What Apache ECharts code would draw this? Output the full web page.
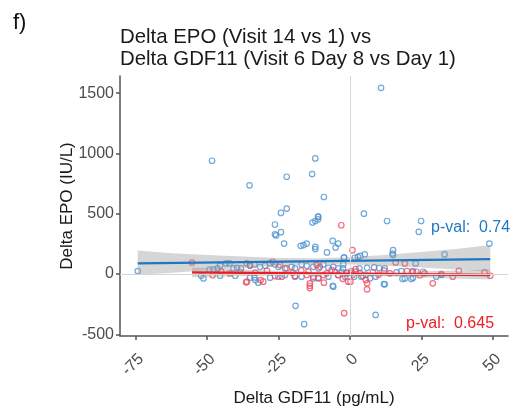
<!DOCTYPE html>
<html>
<head>
<meta charset="utf-8">
<script src="https://cdn.jsdelivr.net/npm/echarts@6/dist/echarts.min.js"></script>
<style>
  html, body { margin: 0; padding: 0; background: #ffffff; }
  #chart { width: 510px; height: 409px; }
</style>
</head>
<body>
<div id="chart"></div>
<script>
// Tick positions on each axis
const xTicks = [-75, -50, -25, 0, 25, 50];
const yTicks = [-500, 0, 500, 1000, 1500];

// [Delta GDF11, Delta EPO] per subject, first group (blue)
const bluePoints = [
  [-48.2, 940], [-12.1, 959], [-35.1, 736], [-22.1, 807], [-13.2, 829], [-9.1, 639],
  [-22.1, 543], [-24.1, 507], [-11.1, 474], [10.9, 1545], [4.9, 501], [13, 440],
  [24.9, 440], [24.1, 350], [-26.2, 411], [-26.2, 330], [-25.8, 320], [-24.1, 347],
  [-23, 253], [-13.1, 427], [-12.1, 440], [-11.1, 454], [-11.1, 477], [-17.2, 234],
  [-16.2, 240], [-15.1, 253], [-12.1, 226], [-12.1, 207], [-8, 179], [-6, 275],
  [-4.1, 253], [-5, 220], [-2, 138], [-19, -264], [-16, -416], [-6, -97],
  [-32, -72], [-33.1, -50], [15.1, 198], [15.1, 157], [33.1, 163], [23, 88],
  [11.9, -83], [9, -339], [18.4, -41], [21.5, -41], [30.2, -22], [32, -8],
  [48.8, 253], [-74.2, 25], [-52, -14], [-51.2, -36],
  [-49.1, 36], [-47.7, 36], [-46.3, 47], [-45.4, 69], [-43.3, 88], [-42.1, 88],
  [-40.7, 47], [-39.5, 52], [-38.1, 47], [-45.4, -14], [-40.1, -14],
  [-36.1, 88], [-34.9, 69], [-33.4, 80], [-31.4, 60], [-29.7, 69], [-27.9, 88],
  [-26.2, 80], [-25, 60], [-22.7, 47], [-20.4, 60], [-19.2, 47], [-16.9, 80],
  [-15.1, 69], [-12.8, 60], [-11, 47], [-9.3, 80], [-7.5, 52], [-5.8, 60],
  [-4.1, 47], [-2.3, 80],
  [-34.9, -30], [-33.4, -28], [-27.9, -30], [-25, -22], [-22.7, -8], [-19.2, -22],
  [-16.9, -22], [-12.8, -36], [-11, -30], [-7.5, -22], [-4.1, -8], [-5.8, -105],
  [-2.1, 135], [1.7, 135], [2.8, 142], [3.6, 150], [5.2, 163], [14.9, 170],
  [-2.4, 47], [-2.9, 19], [3.3, 47], [6, 52], [8.5, 55], [10.2, 50], [12.2, 47],
  [16.3, 14], [18, 25], [22, 25], [19.2, -36], [22.1, -30], [7, -36], [9, -22],
  [-1.7, -22], [1.5, -22], [4, -22], [5.5, -5], [12.2, -85], [25.6, 19],
  [2, 20], [0.5, 10], [-1, 5]
];

// [Delta GDF11, Delta EPO] per subject, second group (red)
const redPoints = [
  [-55.2, 95], [-36.3, -69], [-35, 74], [-36, -63], [-30.3, -63], [-31.2, -50],
  [-27, 102], [-24.4, 74], [-22.1, 47], [-29, 27], [-26.2, -17], [-23.8, -22],
  [-19.2, -17], [-15.1, -8], [-12.8, -22], [-11, -36], [-9.3, -8], [-8.1, 6],
  [-6.4, 33], [-5.2, 19], [-4.1, -8], [-1.2, 11], [-0.6, -63], [-11.6, 74],
  [-10.5, 60], [-9.1, -72], [-33.1, 11], [-38.4, 19], [-3, 405], [-2, -325],
  [-14, -77], [-14, -97], [-14, -116], [0.9, 198], [6, -77], [6, -127],
  [5.6, -50], [0.2, -63], [29, -77], [38.1, 27], [36, -22], [47.1, 14],
  [49.1, -14], [26.2, 6], [23.3, 19], [16, 96], [19.2, 88], [14, 6],
  [20, 25], [22, 15], [24.5, -10], [2, 40], [3.5, 10], [0.5, 25],
  [4.5, -15], [1, -5], [-45, 20], [-42, 5], [-48, -10], [-20, 10],
  [-17, 30], [-14.5, 20], [-2.5, -40], [8, 15], [10, -5], [12, 28], [32, 0]
];

// Fitted lines (end points) and their confidence bands
const blueFitX = [-74.2, 49.1];
const blueFitY = [88, 124];
const redFitX = [-55.2, 49.1];
const redFitY = [14, -8];

const blueBandX    = [-74.2, -62, -50, -37, -25, -12, 0, 12, 25, 37, 49.1];
const blueBandLow  = [-5, 10, 31, 53, 71, 82, 79, 69, 54, 38, 19];
const blueBandHigh = [195, 173, 159, 145, 133, 130, 140, 158, 182, 207, 240];

const redBandX    = [-55.2, -40, -25, -12, 0, 12, 25, 37, 49.1];
const redBandLow  = [-26, -18, -12, -8, -10, -18, -29, -38, -46];
const redBandHigh = [54, 40, 27, 18, 15, 17, 23, 30, 38];

const pLabels = ['p-val:  0.74', 'p-val:  0.645'];

const BLUE_PT = '#4f93d0';
const RED_PT = '#f04a5e';
const BLUE_LINE = '#1f78c1';
const RED_LINE = '#ee1c25';
const FONT = 'Liberation Sans, Arial, sans-serif';

const zip = (xs, ys) => xs.map((x, i) => [x, ys[i]]);

// Confidence band drawn as one polygon: upper edge left→right, lower edge right→left
function bandSeries(name, xs, lo, hi) {
  return {
    name: name, type: 'custom', silent: true, z: 3,
    data: xs.map((x, i) => [x, lo[i], hi[i]]),
    encode: { x: 0, y: [1, 2] },
    renderItem: function (params, api) {
      if (params.dataIndex !== 0) return null;
      const upper = xs.map((x, i) => api.coord([x, hi[i]]));
      const lower = xs.map((x, i) => api.coord([x, lo[i]])).reverse();
      return {
        type: 'polygon',
        shape: { points: upper.concat(lower) },
        style: { fill: 'rgba(153,153,153,0.4)' }
      };
    }
  };
}

const chart = echarts.init(document.getElementById('chart'), null, { renderer: 'canvas' });

chart.setOption({
  animation: false,
  backgroundColor: '#ffffff',
  textStyle: { fontFamily: FONT },
  title: {
    text: 'Delta EPO (Visit 14 vs 1) vs\nDelta GDF11 (Visit 6 Day 8 vs Day 1)',
    left: 120, top: 26, padding: 0,
    textStyle: { fontSize: 20.4, fontWeight: 'normal', color: '#1a1a1a', lineHeight: 22, fontFamily: FONT }
  },
  grid: { left: 120, right: 2, top: 76, bottom: 73, outerBoundsMode: 'none', containLabel: false },
  xAxis: {
    type: 'value', min: -80.4, max: 55.3,
    name: 'Delta GDF11 (pg/mL)', nameLocation: 'middle', nameGap: 54, nameMoveOverlap: false,
    nameTextStyle: { fontSize: 17, color: '#1a1a1a', fontFamily: FONT },
    axisLine: { onZero: false, lineStyle: { color: '#555555', width: 1.5 } },
    axisTick: { show: true, length: 4, customValues: xTicks, lineStyle: { color: '#555555', width: 1.5 } },
    axisLabel: {
      customValues: xTicks, rotate: 45, margin: 15, verticalAlign: 'top',
      fontSize: 16, color: '#4d4d4d', fontFamily: FONT,
      formatter: v => String(v)
    },
    splitLine: { show: false }
  },
  yAxis: {
    type: 'value', min: -514, max: 1643,
    name: 'Delta EPO (IU/L)', nameLocation: 'middle', nameGap: 44, nameMoveOverlap: false,
    nameTextStyle: { fontSize: 17, color: '#1a1a1a', fontFamily: FONT },
    axisLine: { show: true, onZero: false, lineStyle: { color: '#555555', width: 1.5 } },
    axisTick: { show: true, length: 4, customValues: yTicks, lineStyle: { color: '#555555', width: 1.5 } },
    axisLabel: {
      customValues: yTicks, margin: 6, fontSize: 16, color: '#4d4d4d', fontFamily: FONT,
      formatter: v => String(v)
    },
    splitLine: { show: false }
  },
  graphic: [
    { type: 'text', left: 13, top: 12, style: { text: 'f)', fontSize: 22, fill: '#111111', fontFamily: FONT } },
    { type: 'text', x: 431, y: 228, style: { text: pLabels[0], fontSize: 16, fill: BLUE_LINE, fontFamily: FONT, verticalAlign: 'middle' }, z: 10 },
    { type: 'text', x: 406, y: 324, style: { text: pLabels[1], fontSize: 16, fill: RED_LINE, fontFamily: FONT, verticalAlign: 'middle' }, z: 10 }
  ],
  series: [
    {
      name: 'zero', type: 'line', data: [], silent: true, z: 1,
      markLine: {
        silent: true, symbol: 'none', label: { show: false },
        lineStyle: { color: '#d6d6d6', width: 1, type: 'solid' },
        data: [{ xAxis: 0 }, { yAxis: 0 }]
      }
    },
    {
      name: 'blue', type: 'scatter', data: bluePoints, symbol: 'circle', symbolSize: 5.5, z: 2,
      itemStyle: { color: 'rgba(0,0,0,0)', borderColor: BLUE_PT, borderWidth: 1.2 }
    },
    {
      name: 'red', type: 'scatter', data: redPoints, symbol: 'circle', symbolSize: 5.5, z: 2,
      itemStyle: { color: 'rgba(0,0,0,0)', borderColor: RED_PT, borderWidth: 1.2 }
    },
    bandSeries('blueBand', blueBandX, blueBandLow, blueBandHigh),
    bandSeries('redBand', redBandX, redBandLow, redBandHigh),
    {
      name: 'blueFit', type: 'line', data: zip(blueFitX, blueFitY), symbol: 'none', z: 4,
      lineStyle: { color: BLUE_LINE, width: 2.2 }
    },
    {
      name: 'redFit', type: 'line', data: zip(redFitX, redFitY), symbol: 'none', z: 4,
      lineStyle: { color: RED_LINE, width: 2.4 }
    }
  ]
});
</script>
</body>
</html>
